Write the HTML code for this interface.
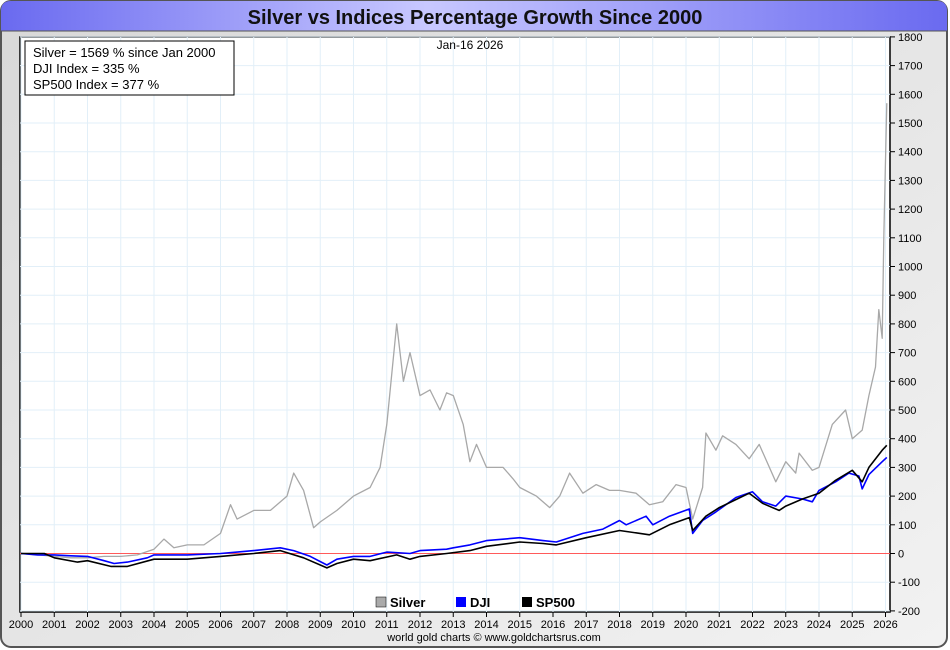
<!DOCTYPE html>
<html><head><meta charset="utf-8"><style>
body{margin:0;background:#fff;}
svg{display:block;font-family:"Liberation Sans",sans-serif;}
</style></head><body>
<svg id="c" width="950" height="650">
<defs>
<linearGradient id="tb" x1="0" x2="1"><stop offset="0" stop-color="#6a6af0"/><stop offset="0.45" stop-color="#c8c8ff"/><stop offset="1" stop-color="#6a6af0"/></linearGradient>
<linearGradient id="bg" x1="0" x2="1" y1="0" y2="1"><stop offset="0" stop-color="#d8d8d8"/><stop offset="1" stop-color="#f2f2f2"/></linearGradient>
</defs>
<rect x="1" y="1" width="946" height="646" rx="10" fill="url(#bg)" stroke="#555" stroke-width="2"/>
<path d="M1,31 L1,11 Q1,1 11,1 L937,1 Q947,1 947,11 L947,31 Z" fill="url(#tb)"/>
<line x1="1" y1="31" x2="947" y2="31" stroke="#555" stroke-width="1"/>
<text x="475" y="24" text-anchor="middle" font-size="20" font-weight="bold" fill="#111">Silver vs Indices Percentage Growth Since 2000</text>
<rect x="20" y="37" width="870" height="575" fill="#fff" stroke="#000" stroke-width="1.5"/>
<g id="grid"></g>
<g id="series"></g>
<g id="axes"></g>
<rect x="25" y="41" width="209" height="54" fill="#fff" stroke="#000" stroke-width="1"/>
<text x="33" y="57" font-size="13">Silver = 1569 % since Jan 2000</text>
<text x="33" y="73" font-size="13">DJI Index = 335 %</text>
<text x="33" y="89" font-size="13">SP500 Index = 377 %</text>
<text x="470" y="49" text-anchor="middle" font-size="12">Jan-16  2026</text>
<g>
<rect x="376" y="597" width="10" height="10" fill="#aaa" stroke="#000" stroke-width="0.5"/>
<text x="390" y="607" font-size="13" font-weight="bold">Silver</text>
<rect x="456" y="597" width="10" height="10" fill="#00f"/>
<text x="470" y="607" font-size="13" font-weight="bold">DJI</text>
<rect x="522" y="597" width="10" height="10" fill="#000"/>
<text x="536" y="607" font-size="13" font-weight="bold">SP500</text>
</g>
<text x="494" y="641" text-anchor="middle" font-size="11">world gold charts © www.goldchartsrus.com</text>
</svg>
<script>
const yearTicks=[2000,2001,2002,2003,2004,2005,2006,2007,2008,2009,2010,2011,2012,2013,2014,2015,2016,2017,2018,2019,2020,2021,2022,2023,2024,2025,2026];
const valueTicks=[-200,-100,0,100,200,300,400,500,600,700,800,900,1000,1100,1200,1300,1400,1500,1600,1700,1800];
const silverT=[2000,2000.5,2001,2001.5,2002,2002.5,2003,2003.5,2004,2004.3,2004.6,2005,2005.5,2006,2006.3,2006.5,2007,2007.5,2008,2008.2,2008.5,2008.8,2009,2009.5,2010,2010.5,2010.8,2011,2011.3,2011.5,2011.7,2012,2012.3,2012.6,2012.8,2013,2013.3,2013.5,2013.7,2014,2014.5,2014.8,2015,2015.5,2015.9,2016.2,2016.5,2016.9,2017.3,2017.7,2018,2018.5,2018.9,2019.3,2019.7,2020,2020.2,2020.5,2020.6,2020.9,2021.1,2021.5,2021.9,2022.2,2022.7,2023,2023.3,2023.4,2023.8,2024,2024.4,2024.8,2025,2025.3,2025.5,2025.7,2025.8,2025.9,2025.95,2026,2026.04];
const silverV=[0,-5,-10,-15,-15,-10,-10,-5,15,50,20,30,30,70,170,120,150,150,200,280,220,90,110,150,200,230,300,450,800,600,700,550,570,500,560,550,450,320,380,300,300,260,230,200,160,200,280,210,240,220,220,210,170,180,240,230,120,230,420,360,410,380,330,380,250,320,280,350,290,300,450,500,400,430,550,650,850,750,1100,1370,1569];
const djiT=[2000,2000.5,2001,2001.5,2002,2002.5,2002.8,2003.2,2003.8,2004,2005,2006,2006.5,2007,2007.8,2008.2,2008.7,2009.2,2009.5,2010,2010.5,2011,2011.7,2012,2012.8,2013,2013.5,2014,2015,2015.7,2016.1,2016.9,2017.5,2018,2018.2,2018.8,2019,2019.5,2020.1,2020.2,2020.5,2020.9,2021.5,2022,2022.3,2022.7,2023,2023.5,2023.8,2024,2024.5,2024.9,2025.2,2025.3,2025.5,2025.9,2026.04];
const djiV=[0,-5,-5,-8,-10,-25,-35,-30,-15,-5,-5,0,5,10,20,10,-10,-40,-20,-10,-10,5,0,10,15,20,30,45,55,45,40,70,85,115,100,130,100,130,155,70,115,145,195,215,180,165,200,190,180,220,250,280,270,225,275,320,335];
const spT=[2000,2000.7,2001,2001.7,2002,2002.7,2003.2,2004,2005,2006,2007,2007.8,2008.5,2009.2,2009.5,2010,2010.5,2011.3,2011.7,2012,2012.8,2013.5,2014,2015,2015.7,2016.1,2017,2018,2018.9,2019.5,2020.1,2020.2,2020.6,2021,2021.9,2022.3,2022.8,2023,2023.5,2024,2024.5,2025,2025.3,2025.5,2025.9,2026.04];
const spV=[0,0,-15,-30,-25,-45,-45,-20,-20,-10,0,10,-15,-50,-35,-20,-25,-5,-20,-10,0,10,25,40,35,30,55,80,65,100,125,80,130,160,210,175,150,165,190,210,255,290,250,300,360,377];

const X0=21,X1=885.5,T0=2000,T1=2026;
const Y0=553.5,PX=574/2000;
function xs(t){return X0+(t-T0)*(X1-X0)/(T1-T0);}
function ys(v){return Y0-v*PX;}
const NS="http://www.w3.org/2000/svg";
function mk(tag,attrs,parent){const e=document.createElementNS(NS,tag);for(const k in attrs)e.setAttribute(k,attrs[k]);parent.appendChild(e);return e;}
const grid=document.getElementById('grid'),axes=document.getElementById('axes'),ser=document.getElementById('series');
yearTicks.forEach(t=>{
  const l=mk('line',{x1:xs(t),x2:xs(t),y1:37,y2:612,stroke:'#e2eff8','stroke-width':1},grid);
  
  
  const tk=mk('line',{x1:xs(t),x2:xs(t),y1:612,y2:617,stroke:'#000'},axes);
  
  
  const tx=mk('text',{x:xs(t),y:628,'text-anchor':'middle','font-size':11},axes);
  tx.textContent=t;
  
  
});
valueTicks.forEach(v=>{
  const l=mk('line',{x1:20,x2:890,y1:ys(v),y2:ys(v),stroke:v===0?'#ff5a5a':'#e2eff8','stroke-width':1},grid);
  
  
  const tk=mk('line',{x1:890,x2:895,y1:ys(v),y2:ys(v),stroke:'#000'},axes);
  
  
  const tx=mk('text',{x:898,y:ys(v)+4,'font-size':11},axes);
  tx.textContent=v;
  
  
});
function line(T,V,color,name,w){
  const d=T.map((t,i)=>(i?'L':'M')+xs(t).toFixed(1)+','+ys(V[i]).toFixed(1)).join('');
  const p=mk('path',{d:d,fill:'none',stroke:color,'stroke-width':w,'stroke-linejoin':'round'},ser);
  
  
}
line(silverT,silverV,'#a8a8a8','silver-line',1.3);
line(djiT,djiV,'#0000ff','dji-line',1.6);
line(spT,spV,'#000','sp500-line',1.6);
</script>
</body></html>
